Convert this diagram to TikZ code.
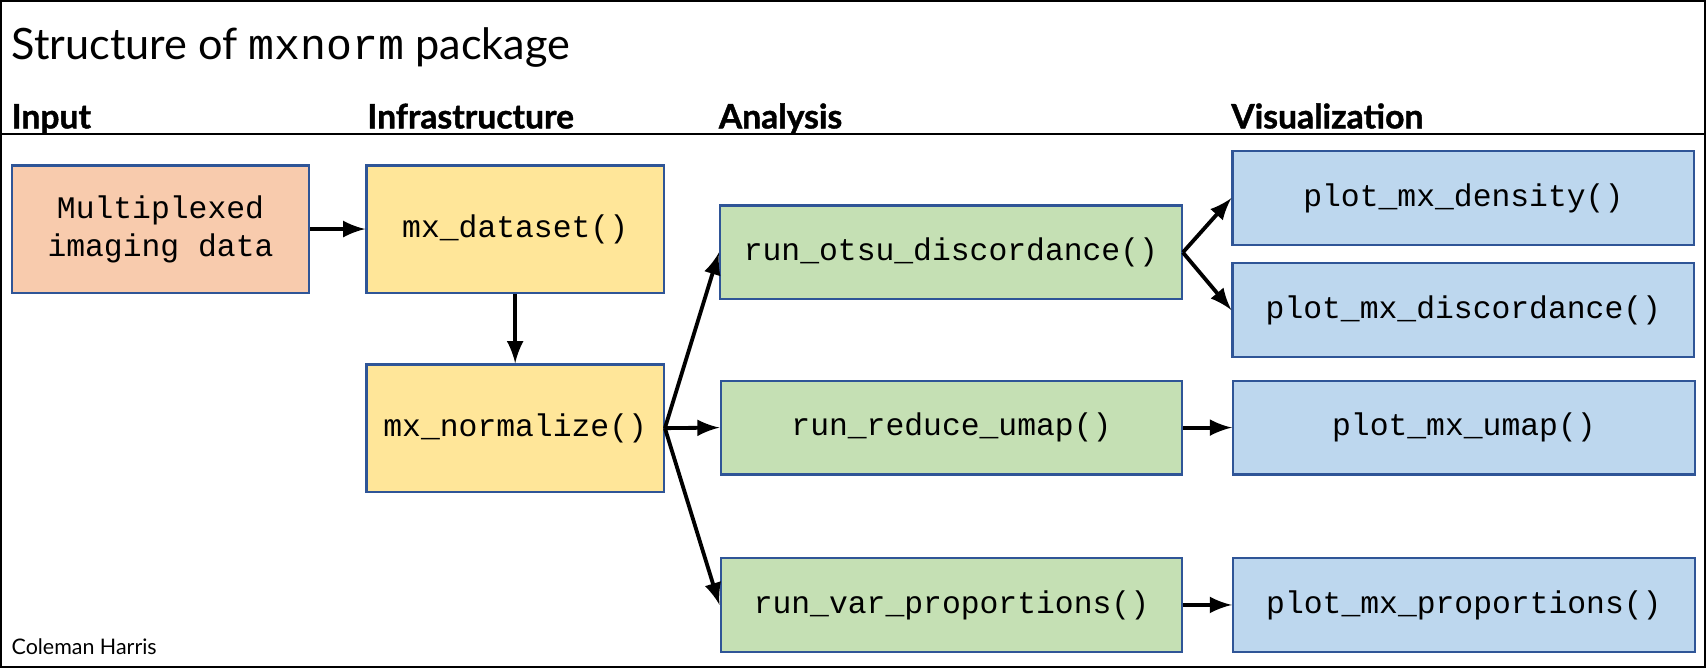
\documentclass[tikz,border=0pt]{standalone}
\usepackage{fontspec}
\setmainfont{Lato}
\setmonofont{Liberation Mono}
\newfontfamily\headfont[FakeBold=1.2]{Lato}
\usetikzlibrary{arrows}
\definecolor{boxline}{HTML}{2F5597}
\definecolor{inputfill}{HTML}{F8CBAD}
\definecolor{infrafill}{HTML}{FFE699}
\definecolor{anafill}{HTML}{C5E0B4}
\definecolor{visfill}{HTML}{BDD7EE}

\begin{document}
\begin{tikzpicture}[x=0.01cm,y=-0.01cm,
                every path/.style={>=latex},
                fn/.style={rectangle,draw=boxline,line width=0.6pt,inner sep=0pt,align=center,
                           font=\ttfamily\fontsize{8.2}{10}\selectfont},
                tall/.style={fn,minimum width=2.73cm,minimum height=1.17cm},
                wide/.style={fn,minimum width=4.24cm,minimum height=0.86cm},
                head/.style={anchor=base west,inner sep=0pt,font=\headfont\bfseries\fontsize{8.8}{10}\selectfont},
                link/.style={->,line width=1pt}]
  \useasboundingbox (0,0) rectangle (1568,614);
  \draw[line width=0.6pt] (1,1) rectangle (1567,613);
  \draw[line width=0.35pt] (1,123) -- (1567,123);
  \node[anchor=base west,inner sep=0pt,font=\fontsize{11.3}{14}\selectfont] (title) at (10,55)
      {Structure of \texttt{mxnorm} package};
  \node[head] (hinput) at (10,118) {Input};
  \node[head] (hinfra) at (337,118) {Infrastructure};
  \node[head] (hana)   at (660,118) {Analysis};
  \node[head] (hvis)   at (1131,118) {Visualization};
  \node[anchor=base west,inner sep=0pt,font=\fontsize{5.6}{7}\selectfont] (author) at (10,602) {Coleman Harris};

  \node[tall,fill=inputfill] (input)     at (147.5,210.5) {Multiplexed\\imaging data};
  \node[tall,fill=infrafill] (dataset)   at (473.5,210.5) {mx\_dataset()};
  \node[tall,fill=infrafill] (normalize) at (473.5,393.5) {mx\_normalize()};
  \node[wide,fill=anafill]   (otsu)      at (874,232)     {run\_otsu\_discordance()};
  \node[wide,fill=anafill]   (reduce)    at (874.5,393)   {run\_reduce\_umap()};
  \node[wide,fill=anafill]   (varprop)   at (874.5,556)   {run\_var\_proportions()};
  \node[wide,fill=visfill]   (density)   at (1345,182)    {plot\_mx\_density()};
  \node[wide,fill=visfill]   (discord)   at (1345,285)    {plot\_mx\_discordance()};
  \node[wide,fill=visfill]   (umap)      at (1345.5,393)  {plot\_mx\_umap()};
  \node[wide,fill=visfill]   (props)     at (1345.5,556)  {plot\_mx\_proportions()};

  \draw[link] (input) -- (dataset);
  \draw[link] (dataset) -- (normalize);
  \draw[link] (normalize.east) -- (otsu.west);
  \draw[link] (normalize.east) -- (reduce.west);
  \draw[link] (normalize.east) -- (varprop.west);
  \draw[link] (otsu.east) -- (density.west);
  \draw[link] (otsu.east) -- (discord.west);
  \draw[link] (reduce) -- (umap);
  \draw[link] (varprop) -- (props);
\end{tikzpicture}
\end{document}
